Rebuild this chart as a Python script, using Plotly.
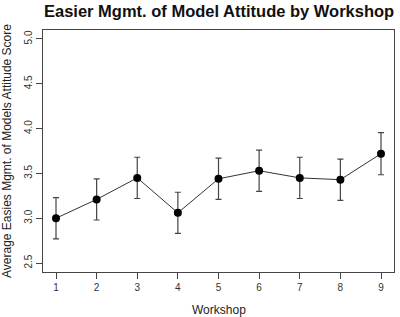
import plotly.graph_objects as go

workshops = [1, 2, 3, 4, 5, 6, 7, 8, 9]
mean_scores = [3.00, 3.21, 3.45, 3.06, 3.44, 3.53, 3.45, 3.43, 3.72]
err_upper = [0.23, 0.23, 0.23, 0.23, 0.23, 0.23, 0.23, 0.23, 0.235]
err_lower = [0.23, 0.23, 0.23, 0.23, 0.23, 0.23, 0.23, 0.23, 0.235]
y_ticks = [2.5, 3.0, 3.5, 4.0, 4.5, 5.0]
y_tick_labels = ["2.5", "3.0", "3.5", "4.0", "4.5", "5.0"]

fig = go.Figure()
fig.add_trace(go.Scatter(
    x=workshops, y=mean_scores, mode="lines+markers",
    line=dict(color="#333333", width=1),
    marker=dict(color="black", size=8),
    error_y=dict(type="data", symmetric=False, array=err_upper, arrayminus=err_lower,
                 color="#444444", thickness=1.2, width=3),
    showlegend=False,
))

font_family = "Liberation Sans, Arial, sans-serif"
fig.update_layout(
    width=400, height=317,
    margin=dict(l=43, r=6, t=30, b=45, autoexpand=False),
    paper_bgcolor="white", plot_bgcolor="white",
    font=dict(family=font_family, color="#222222"),
    annotations=[
        dict(text="<b>Easier Mgmt. of Model Attitude by Workshop</b>",
             xref="paper", yref="paper", x=0.5, y=1.0785, xanchor="center", yanchor="middle",
             showarrow=False, font=dict(size=16.5, color="#111111")),
        dict(text="Workshop", xref="paper", yref="paper", x=0.5, y=-0.157,
             xanchor="center", yanchor="middle", showarrow=False,
             font=dict(size=12, color="#222222")),
        dict(text="Average Easies Mgmt. of Models Attitude Score", xref="paper", yref="paper",
             x=-0.1026, y=0.5, xanchor="center", yanchor="middle", textangle=-90,
             showarrow=False, font=dict(size=12, color="#222222")),
    ],
)
fig.update_xaxes(
    range=[0.68, 9.32], tickvals=workshops, ticktext=[str(w) for w in workshops],
    showgrid=False, zeroline=False, showline=True, linecolor="#444444", linewidth=1, mirror=True,
    ticks="outside", ticklen=6, tickcolor="#444444", tickfont=dict(size=10, color="#333333"),
    automargin=False,
)
fig.update_yaxes(
    range=[2.4, 5.1], tickvals=y_ticks, ticktext=y_tick_labels, tickangle=-90,
    showgrid=False, zeroline=False, showline=True, linecolor="#444444", linewidth=1, mirror=True,
    ticks="outside", ticklen=6, tickcolor="#444444", tickfont=dict(size=10, color="#333333"),
    automargin=False,
)

fig.write_html("out.html", config={"displayModeBar": False},
               post_script="document.body.style.margin='0';document.body.style.overflow='hidden';")
